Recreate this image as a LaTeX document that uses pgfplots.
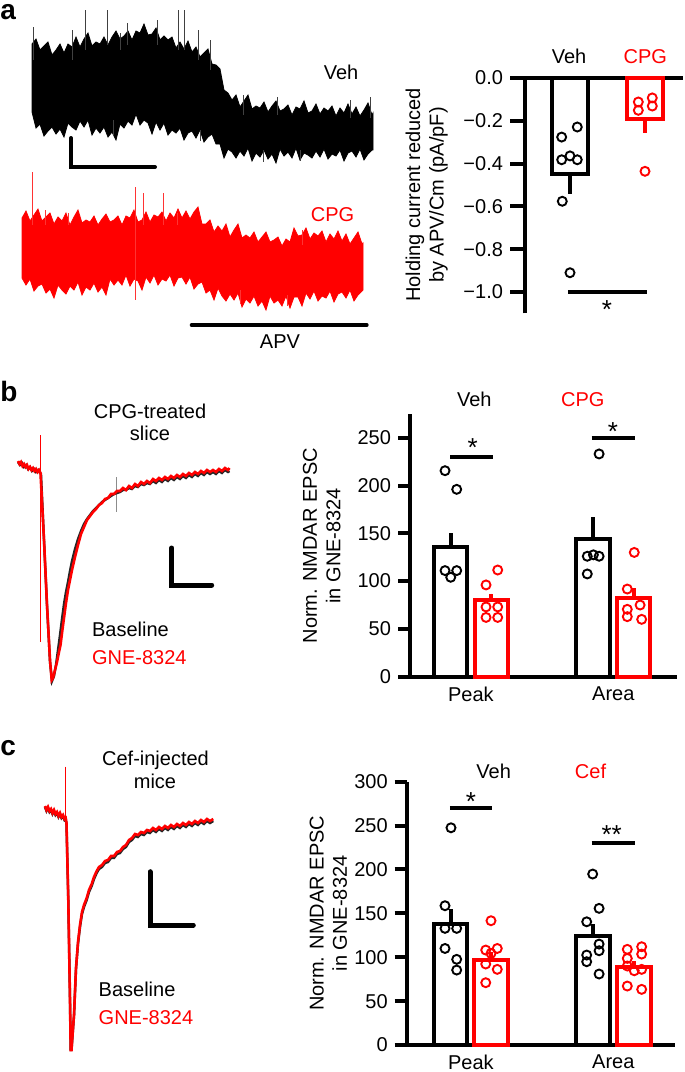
\documentclass[border=0pt]{standalone}
\usepackage{pgfplots}
\pgfplotsset{compat=1.18}
\usepackage{fontspec}
\setmainfont{Liberation Sans}
\definecolor{cred}{RGB}{255,0,0}
\newcommand\fs{\fontsize{10}{11.7}\selectfont}
\newcommand\fst{\fontsize{13}{13}\selectfont}
\pgfplotsset{
  barax/.style={scale only axis, anchor=south west, clip=false,
    axis y line*=left, tick align=outside,
    axis line style={line width=2pt, black},
    ytick style={line width=2pt, black},
    major x tick style={draw=none},
    font=\fs, tick label style={font=\fs},
    xticklabel style={yshift=4.5pt},
    ylabel style={align=center, anchor=center, font=\fs},
  },
  ebar/.style={error bars/y dir=#1, error bars/y explicit, error bars/error mark=none},
  vbar/.style={ybar, bar width=16.8pt, bar shift=0pt, draw=black, fill=white, line width=2pt,
    ebar=plus, error bars/error bar style={line width=2pt, black}},
  rbar/.style={ybar, bar width=16.8pt, bar shift=0pt, draw=cred, fill=white, line width=2pt,
    ebar=plus, error bars/error bar style={line width=2pt, cred}},
  vdot/.style={only marks, mark=o, mark size=2.25pt, black, mark options={line width=0.95pt}},
  rdot/.style={only marks, mark=o, mark size=2.25pt, cred, mark options={line width=0.95pt}},
  spike/.style={draw=none, mark=none, ebar=both,
    error bars/error bar style={draw=#1, line width=0.5pt}},
}
\begin{document}
\begin{tikzpicture}
\useasboundingbox (0pt,0pt) rectangle (342.5pt,-536pt);
%================ canvas (pixel coordinates) =================
\begin{axis}[at={(0pt,0pt)}, anchor=north west, scale only axis,
  width=342.5pt, height=536pt, xmin=0, xmax=685, ymin=0, ymax=1072,
  y dir=reverse, hide axis, clip=false]
% ---- panel a, Veh trace (upper then lower envelope of the noisy recording)
\addplot[fill=black, draw=black, line width=0.4pt] coordinates {
(32,44) (36,39) (40,50) (44,46) (48,42) (52,55) (56,50) (60,44) (64,53) (68,44) (72,47) (76,37) (80,47) (84,39) (88,33) (92,46) (96,42) (100,44) (104,37) (108,45) (112,37) (116,31) (120,39) (124,36) (128,31) (132,40) (136,31) (140,33) (144,24) (148,35) (152,34) (156,28) (160,40) (164,36) (168,40) (172,37) (176,48) (180,42) (184,49) (188,41) (192,52) (196,47) (200,57) (204,53) (208,49) (212,64) (216,65) (220,69) (224,90) (228,93) (232,100) (236,95) (240,107) (244,101) (248,95) (252,109) (256,106) (260,108) (264,102) (268,112) (272,106) (276,101) (280,111) (284,109) (288,105) (292,115) (296,107) (300,109) (304,101) (308,113) (312,111) (316,104) (320,114) (324,108) (328,111) (332,106) (336,116) (340,108) (344,113) (348,104) (352,114) (356,107) (360,116) (364,110) (368,103) (372,115) (373,113)
(373,150) (372,150) (368,154) (364,160) (360,149) (356,157) (352,151) (348,153) (344,161) (340,150) (336,156) (332,154) (328,159) (324,149) (320,157) (316,151) (312,158) (308,155) (304,153) (300,160) (296,148) (292,158) (288,152) (284,156) (280,149) (276,163) (272,154) (268,159) (264,150) (260,157) (256,153) (252,161) (248,148) (244,156) (240,151) (236,158) (232,152) (228,149) (224,158) (220,144) (216,144) (212,134) (208,137) (204,142) (200,130) (196,138) (192,131) (188,133) (184,140) (180,128) (176,133) (172,130) (168,135) (164,123) (160,130) (156,122) (152,134) (148,123) (144,120) (140,125) (136,114) (132,125) (128,121) (124,128) (120,124) (116,140) (112,132) (108,137) (104,127) (100,133) (96,128) (92,135) (88,120) (84,127) (80,121) (76,130) (72,127) (68,123) (64,137) (60,129) (56,134) (52,127) (48,131) (44,136) (40,124) (36,128) (32,112)} -- cycle;
\addplot[spike=black!75] coordinates {
(33,43.5) +- (0,16.5) (72,45) +- (0,15) (85,30) +- (0,20) (107,27.5) +- (0,17.5) (120,41.5) +- (0,8.5) (127,34) +- (0,11) (157,32.5) +- (0,12.5) (178,30) +- (0,20) (184,30) +- (0,20) (198,45) +- (0,15) (210,55) +- (0,15) (243,105) +- (0,10) (277,106) +- (0,9) (350,109) +- (0,9) (370,107.5) +- (0,10.5) (113,128) +- (0,8) (200,135.5) +- (0,5.5) (263,156) +- (0,6) (300,155.5) +- (0,5.5)};
% ---- panel a, CPG trace
\addplot[fill=cred, draw=cred, line width=0.4pt] coordinates {
(22,218) (26,211) (30,221) (34,215) (38,209) (42,221) (46,217) (50,213) (54,224) (58,217) (62,221) (66,213) (70,225) (74,217) (78,210) (82,223) (86,220) (90,222) (94,216) (98,225) (102,219) (106,214) (110,222) (114,220) (118,216) (122,225) (126,216) (130,218) (134,210) (138,222) (142,220) (146,212) (150,222) (154,215) (158,217) (162,212) (166,221) (170,213) (174,218) (178,209) (182,218) (186,211) (190,219) (194,212) (198,207) (202,224) (206,224) (210,220) (214,232) (218,226) (222,231) (226,224) (230,237) (234,230) (238,224) (242,238) (246,235) (250,238) (254,232) (258,242) (262,237) (266,232) (270,242) (274,240) (278,237) (282,246) (286,239) (290,242) (294,228) (298,236) (302,235) (306,228) (310,239) (314,233) (318,236) (322,231) (326,242) (330,234) (334,239) (338,231) (342,241) (346,234) (350,244) (354,238) (358,232) (362,244) (363,243)
(363,290) (362,291) (358,295) (354,301) (350,290) (346,298) (342,292) (338,294) (334,302) (330,291) (326,298) (322,296) (318,301) (314,291) (310,299) (306,293) (302,306) (298,297) (294,297) (290,308) (286,296) (282,306) (278,300) (274,303) (270,296) (266,310) (262,301) (258,306) (254,296) (250,303) (246,299) (242,307) (238,293) (234,300) (230,294) (226,301) (222,296) (218,288) (214,300) (210,290) (206,293) (202,282) (198,284) (194,289) (190,277) (186,284) (182,277) (178,278) (174,286) (170,275) (166,281) (162,279) (158,285) (154,275) (150,283) (146,277) (142,290) (138,281) (134,279) (130,286) (126,275) (122,285) (118,280) (114,285) (110,279) (106,295) (102,287) (98,292) (94,283) (90,290) (86,287) (82,295) (78,282) (74,290) (70,286) (66,294) (62,290) (58,285) (54,298) (50,289) (46,293) (42,284) (38,286) (34,291) (30,279) (26,285) (22,278)} -- cycle;
\addplot[spike=cred!80] coordinates {
(32,198.5) +- (0,26.5) (45,217.5) +- (0,7.5) (68,219) +- (0,6) (135,243.5) +- (0,56.5) (143,209) +- (0,16) (163,209) +- (0,16) (177,219) +- (0,6) (302,237.5) +- (0,7.5) (240,297) +- (0,7) (287,300.5) +- (0,5.5)};
% scale bar and APV bar
\draw[line width=2pt, line cap=round] (axis cs:71,138) -- (axis cs:71,167) -- (axis cs:155,167);
\draw[line width=2pt, line cap=round] (axis cs:191.7,325) -- (axis cs:366.7,325);
\node[anchor=base, font=\fs] at (axis cs:280,348) {APV};
\node[anchor=base, font=\fs] at (axis cs:341,79.5) {Veh};
\node[anchor=base, font=\fs, text=cred] at (axis cs:332.5,221) {CPG};
\node[anchor=base west, font=\fontsize{14}{14}\selectfont\bfseries, inner sep=0pt] at (axis cs:0,19) {a};
\node[anchor=base, font=\fs] at (axis cs:569,63.3) {Veh};
\node[anchor=base, font=\fs, text=cred] at (axis cs:645.3,63.3) {CPG};
\node[anchor=base, font=\fst] at (axis cs:607,318) {*};
% ---- panel b traces
\draw[cred, line width=0.6pt] (axis cs:40.7,435) -- (axis cs:40.7,642);
\draw[black!45, line width=0.4pt] (axis cs:116.7,477) -- (axis cs:116.7,512);
\addplot[black!85, line width=1.2pt] coordinates {
(18,462) (20,465) (22,463) (24,467) (26,465) (28,469) (30,467) (32,471) (34,469) (36,472) (38,470) (40,473) (41,474) (44,540) (47,605) (50,662) (52,681) (54,676) (56,665) (58,650) (60,635) (62,619) (64,604) (66,592) (68,582) (70,571) (72,561) (75,549) (78,539) (81,531) (84,524) (87,519) (90,515) (93,511) (96,508) (99,505) (102,502) (105,500) (108,498) (111,496) (114,494) (117,493) (120,492) (123,490) (126,490) (129,488) (132,489) (135,486) (138,487) (141,484) (144,485) (147,483) (150,484) (153,481) (156,483) (159,480) (162,482) (165,479) (168,481) (171,478) (174,480) (177,477) (180,479) (183,476) (186,478) (189,475) (192,477) (195,474) (198,476) (201,473) (204,475) (207,472) (210,474) (213,472) (216,474) (219,471) (222,473) (225,470) (228,472) (229.5,471)};
\addplot[cred, line width=1.3pt] coordinates {
(18,461) (19.5,464) (21,462) (22.5,466) (24,464) (25.5,467) (27,465) (28.5,469) (30,467) (31.5,470) (33,468) (34.5,471) (36,469) (37.5,472) (39,470) (40.5,473) (44,540) (47,605) (50,660) (51.7,680) (53,678) (55,670) (57,662) (59,652) (60.5,645) (62,633) (64,618) (66,603) (68,590) (70,580) (72,570) (75,557) (78,545) (81,534) (84,527) (87,520) (90,516) (93,512) (96,509) (99,505) (102,503) (105,499) (108,498) (111,494) (114,494) (117,491) (120,491) (123,488) (126,490) (129,486) (132,488) (135,484) (138,486) (141,482) (144,484) (147,481) (150,483) (153,479) (156,481) (159,478) (162,480) (165,477) (168,479) (171,476) (174,478) (177,475) (180,477) (183,474) (186,476) (189,473) (192,475) (195,472) (198,474) (201,471) (204,473) (207,470) (210,472) (213,470) (216,472) (219,469) (222,471) (225,468) (228,470) (229.5,468)};
\draw[line width=2.5pt, line cap=round] (axis cs:171.7,548) -- (axis cs:171.7,585) -- (axis cs:211.7,585);
\node[anchor=base west, font=\fontsize{14}{14}\selectfont\bfseries, inner sep=0pt] at (axis cs:0,401.7) {b};
\node[anchor=base, font=\fs] at (axis cs:150,418) {CPG-treated};
\node[anchor=base, font=\fs] at (axis cs:150,440) {slice};
\node[anchor=base west, font=\fs, inner sep=0pt] at (axis cs:91.7,636.7) {Baseline};
\node[anchor=base west, font=\fs, inner sep=0pt, text=cred] at (axis cs:91.7,664) {GNE-8324};
\node[anchor=base, font=\fs] at (axis cs:474.3,406.7) {Veh};
\node[anchor=base, font=\fs, text=cred] at (axis cs:582.8,406.7) {CPG};
\node[anchor=base, font=\fst] at (axis cs:472.7,456.7) {*};
\node[anchor=base, font=\fst] at (axis cs:613,440) {*};
% ---- panel c traces
\draw[cred, line width=0.6pt] (axis cs:65.7,766.7) -- (axis cs:65.7,820);
\addplot[black!85, line width=1.2pt] coordinates {
(45,807) (46.5,811) (48,808) (49.5,812) (51,810) (52.5,814) (54,811) (55.5,815) (57,813) (58.5,817) (60,814) (61.5,818) (63,816) (64.5,820) (65.7,819) (66.5,824) (68.3,900) (70,1000) (70.7,1050) (71.5,1050) (72.7,1033) (74,1016) (76,969) (78,944) (80,927) (82,914) (84,907) (86.7,900) (89,892) (91.7,886) (94,879) (96.7,873) (99,869) (102,867) (105,863) (108,862) (111,858) (114,858) (117,854) (120,853) (123,849) (126,847) (129,842) (132,840) (135,836) (138,837) (141,834) (144,835) (147,832) (150,833) (153,830) (156,832) (159,829) (162,831) (165,828) (168,830) (171,827) (174,829) (177,826) (180,828) (183,825) (186,827) (189,824) (192,826) (195,823) (198,825) (201,822) (204,824) (207,821) (210,823) (213.3,821)};
\addplot[cred, line width=1.3pt] coordinates {
(45,806) (46.5,810) (48,807) (49.5,811) (51,809) (52.5,813) (54,810) (55.5,814) (57,812) (58.5,816) (60,813) (61.5,817) (63,815) (64.5,819) (65.7,818) (66.5,823) (68.3,900) (70,1000) (70.7,1050) (71.5,1050) (72.7,1033) (74,1015) (76,968) (78,942) (80,925) (82,912) (84,905) (86.7,898) (89,890) (91.7,884) (94,877) (96.7,871) (99,867) (102,865) (105,861) (108,860) (111,856) (114,856) (117,852) (120,851) (123,847) (126,845) (129,840) (132,838) (135,834) (138,835) (141,832) (144,833) (147,830) (150,831) (153,828) (156,830) (159,827) (162,829) (165,826) (168,828) (171,825) (174,827) (177,824) (180,826) (183,823) (186,825) (189,822) (192,824) (195,821) (198,823) (201,820) (204,822) (207,819) (210,821) (213.3,819)};
\draw[line width=2.5pt, line cap=round] (axis cs:150,871.7) -- (axis cs:150,925) -- (axis cs:193.3,925);
\node[anchor=base west, font=\fontsize{14}{14}\selectfont\bfseries, inner sep=0pt] at (axis cs:0,755) {c};
\node[anchor=base, font=\fs] at (axis cs:155.5,765) {Cef-injected};
\node[anchor=base, font=\fs] at (axis cs:155,788.3) {mice};
\node[anchor=base west, font=\fs, inner sep=0pt] at (axis cs:98.3,996.7) {Baseline};
\node[anchor=base west, font=\fs, inner sep=0pt, text=cred] at (axis cs:98.3,1024) {GNE-8324};
\node[anchor=base, font=\fs] at (axis cs:493.7,778.3) {Veh};
\node[anchor=base, font=\fs, text=cred] at (axis cs:590.5,778.3) {Cef};
\node[anchor=base, font=\fst] at (axis cs:471,810) {*};
\node[anchor=base, font=\fst] at (axis cs:611.7,843) {**};
\end{axis}
%================ panel a bar chart =================
\begin{axis}[barax, at={(262.5pt,-156.7pt)}, width=78.75pt, height=117.7pt,
  xmin=0.4, xmax=2.5, ymin=-1.1, ymax=0, axis x line=none,
  major tick length=7.5pt,
  ytick={-1,-0.8,-0.6,-0.4,-0.2,0},
  yticklabels={−1.0,−0.8,−0.6,−0.4,−0.2,0.0},
  ylabel={Holding current reduced\\by APV/Cm (pA/pF)},
  ylabel style={at={(axis description cs:-0.624,0.503)}}]
\draw[line width=2pt] (axis cs:0.2,0) -- (axis cs:2.5,0);
\addplot[ybar, bar width=18pt, bar shift=0pt, draw=black, fill=white, line width=2pt,
  ebar=minus, error bars/error bar style={line width=2pt, black}] coordinates {(1,-0.45) +- (0,0.09)};
\addplot[ybar, bar width=18pt, bar shift=0pt, draw=cred, fill=white, line width=2pt,
  ebar=minus, error bars/error bar style={line width=2pt, cred}] coordinates {(2,-0.19) +- (0,0.065)};
\addplot[vdot] coordinates {(0.889,-0.276) (1.097,-0.229) (0.889,-0.382) (1.0,-0.364) (1.097,-0.382) (0.897,-0.576) (1.0,-0.91)};
\addplot[rdot] coordinates {(1.911,-0.112) (2.097,-0.093) (1.911,-0.151) (2.097,-0.131) (2.0,-0.436)};
\draw[line width=2pt] (axis cs:0.973,-1.0) -- (axis cs:2.027,-1.0);
\end{axis}
%================ panel b bar chart =================
\begin{axis}[barax, at={(205pt,-338.35pt)}, width=133.35pt, height=131.45pt,
  xmin=0.572, xmax=2.445, ymin=0, ymax=275, axis x line*=bottom,
  major tick length=6pt,
  ytick={0,50,100,150,200,250}, yticklabels={0,50,100,150,200,250},
  xtick={1,2}, xticklabels={Peak,Area},
  ylabel={Norm. NMDAR EPSC\\in GNE-8324},
  ylabel style={at={(axis description cs:-0.331,0.498)}}]
\draw[line width=2pt] (axis cs:0.49,0) -- (axis cs:0.6,0);
\addplot[vbar] coordinates {(0.857,135.5) +- (0,14.5) (1.857,144) +- (0,23)};
\addplot[rbar] coordinates {(1.143,80) +- (0,7) (2.143,82.5) +- (0,10)};
\addplot[vdot] coordinates {(0.818,215.5) (0.900,196) (0.818,111) (0.900,111) (0.858,104)
  (1.900,233) (1.817,126) (1.900,126) (1.860,127.5) (1.817,107.5)};
\addplot[rdot] coordinates {(1.188,111.6) (1.106,96) (1.188,73) (1.106,73) (1.106,62) (1.188,62)
  (2.147,130) (2.098,91.7) (2.188,75) (2.098,70.5) (2.098,62.8) (2.199,60)};
\draw[line width=2pt] (axis cs:0.853,230) -- (axis cs:1.153,230);
\draw[line width=2pt] (axis cs:1.848,250) -- (axis cs:2.152,250);
\end{axis}
%================ panel c bar chart =================
\begin{axis}[barax, at={(203.35pt,-522.5pt)}, width=134.15pt, height=131.65pt,
  xmin=0.549, xmax=2.433, ymin=0, ymax=300, axis x line*=bottom,
  major tick length=6pt,
  ytick={0,50,100,150,200,250,300}, yticklabels={0,50,100,150,200,250,300},
  xtick={1,2}, xticklabels={Peak,Area},
  ylabel={Norm. NMDAR EPSC\\in GNE-8324},
  ylabel style={at={(axis description cs:-0.292,0.500)}}]
\draw[line width=2pt] (axis cs:0.47,0) -- (axis cs:0.6,0);
\addplot[vbar] coordinates {(0.857,137.8) +- (0,16.7) (1.857,124.5) +- (0,13.3)};
\addplot[rbar] coordinates {(1.143,96.8) +- (0,9.5) (2.143,89.2) +- (0,6)};
\addplot[vdot] coordinates {(0.860,247.5) (0.818,158.7) (0.818,132.9) (0.900,132.9) (0.818,110) (0.900,97.6) (0.900,85.4)
  (1.855,194.8) (1.900,155.7) (1.813,140.4) (1.900,115) (1.813,102.5) (1.900,107.4) (1.813,94.9) (1.900,80.9)};
\addplot[rdot] coordinates {(1.141,141.6) (1.104,108.2) (1.185,110) (1.141,104.4) (1.104,92.3) (1.185,86.2) (1.104,71)
  (2.098,109) (2.199,112) (2.098,98.7) (2.199,103.6) (2.098,90) (2.199,86.2) (2.098,67.2) (2.199,63.4) (2.147,84.6)};
\draw[line width=2pt] (axis cs:0.853,270) -- (axis cs:1.148,270);
\draw[line width=2pt] (axis cs:1.848,229.7) -- (axis cs:2.152,229.7);
\end{axis}
\end{tikzpicture}
\end{document}
